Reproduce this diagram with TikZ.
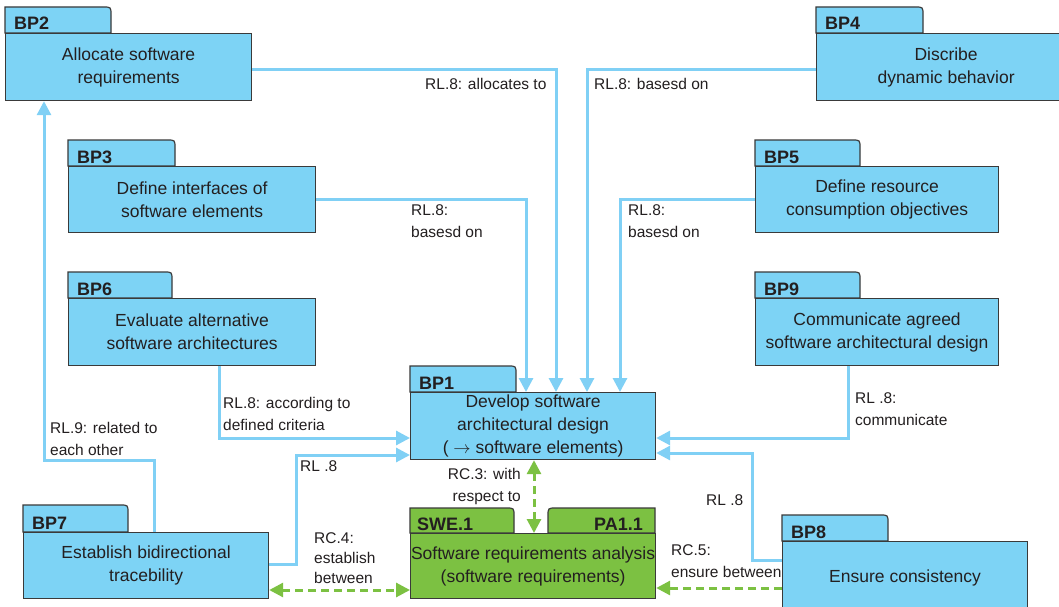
\documentclass[tikz,border=0pt]{standalone}
\usepackage{fontspec}
\setmainfont{Liberation Sans}
\usetikzlibrary{arrows.meta}

\definecolor{boxblue}{HTML}{7DD3F5}
\definecolor{lineblue}{HTML}{80D0F5}
\definecolor{boxgreen}{HTML}{7CC142}
\definecolor{edge}{HTML}{3A3A3A}
\definecolor{ink}{HTML}{231F20}

\tikzset{
  >={Triangle[length=14pt,width=14pt]},
  bpbody/.style={draw=edge, line width=1.2pt, inner sep=0pt, text=ink, align=center,
    font=\fontsize{17.5}{23}\selectfont},
  tabshape/.style={draw=edge, line width=1.2pt},
  head/.style={inner sep=0pt, anchor=base west, text=ink,
    font=\fontsize{18}{20}\selectfont\bfseries},
  lbl/.style={inner sep=0pt, anchor=west, align=left, text=ink,
    font=\fontsize{15.5}{22}\selectfont},
  rl/.style={draw=lineblue, line width=3pt, ->},
  rc/.style={draw=boxgreen, line width=3pt, dash pattern=on 8pt off 5pt},
}

% folder tab with a rounded top-right corner: fill, x1, x2, ytop, ybottom
\newcommand\tabL[5]{%
  \filldraw[tabshape, fill=#1] (#2,#5) -- (#2,#4) -- ({#3-8},#4)
    .. controls (#3,#4) .. (#3,{#4+8}) -- (#3,#5) -- cycle;}
% folder tab with a rounded top-left corner
\newcommand\tabR[5]{%
  \filldraw[tabshape, fill=#1] (#2,#5) -- (#2,{#4+8})
    .. controls (#2,#4) .. ({#2+8},#4) -- (#3,#4) -- (#3,#5) -- cycle;}
% base practice: name, x1, tab x2, x2, tab top, body top, body bottom, heading, text
\newcommand\bp[9]{%
  \tabL{boxblue}{#2}{#3}{#5}{#6}
  \node[bpbody, fill=boxblue, anchor=north west,
        minimum width={(#4-#2)*1pt}, minimum height={(#7-#6)*1pt}] (#1) at (#2,#6) {#9};
  \node[head] (#1h) at ({#2+9},{#6-3}) {#8};}

\begin{document}
\begin{tikzpicture}[x=1pt, y=-1pt]
\useasboundingbox[fill=white] (0,0) rectangle (1059,607);

% base practices
\bp{bp2}{5}{111}{251}{7}{33}{100}{BP2}{Allocate software\\requirements}
\bp{bp4}{816}{923}{1075}{7}{33}{100}{BP4}{Discribe\\dynamic behavior}
\bp{bp3}{68}{175}{315}{140}{166}{232}{BP3}{Define interfaces of\\software elements}
\bp{bp5}{755}{860}{998}{140}{166}{232}{BP5}{Define resource\\consumption objectives}
\bp{bp6}{68}{172}{315}{272}{298}{365}{BP6}{Evaluate alternative\\software architectures}
\bp{bp9}{755}{860}{998}{272}{298}{365}{BP9}{Communicate agreed\\software architectural design}
\bp{bp1}{410}{516}{655}{366}{392}{459}{BP1}{Develop software\\architectural design\\( $\rightarrow$ software elements)}
\bp{bp7}{23}{128}{268}{505}{532}{598}{BP7}{Establish bidirectional\\tracebility}
\bp{bp8}{782}{888}{1027}{515}{541}{613}{BP8}{Ensure consistency}

% process SWE.1
\tabL{boxgreen}{410}{514}{508}{533}
\tabR{boxgreen}{548}{655}{508}{533}
\node[bpbody, fill=boxgreen, anchor=north west, minimum width=245pt, minimum height=65pt]
  (swe) at (410,533) {Software requirements analysis\\(software requirements)};
\node[head] (sweh) at (417,530) {SWE.1};
\node[head, anchor=base east] (pah) at (643,530) {PA1.1};

% RL connectors
\draw[rl] (bp2.east |- 0,70) -| (556,0 |- bp1.north);
\draw[rl] (bp4.west |- 0,70) -| (587,0 |- bp1.north);
\draw[rl] (bp3.east) -| (526,0 |- bp1.north);
\draw[rl] (bp5.west) -| (620,0 |- bp1.north);
\draw[rl] (bp6.south -| 219,0) |- (bp1.west |- 0,438);
\draw[rl] (bp9.south -| 848,0) |- (bp1.east |- 0,438);
\draw[rl] (bp7.east |- 0,564) -| (296,455) -- (bp1.west |- 0,455);
\draw[rl] (bp8.west |- 0,560) -| (752,453) -- (bp1.east |- 0,453);
\draw[rl] (bp7.north -| 154,0) |- (44,460) -- (44,0 |- bp2.south);

% RC connectors
\draw[rc, <->] (bp1.south -| 534,0) -- (swe.north -| 534,0);
\draw[rc, <->] (bp7.east |- 0,590) -- (swe.west |- 0,590);
\draw[rc, ->] (bp8.west |- 0,588) -- (swe.east |- 0,588);

% connector labels
\node[lbl] (l2) at (425,84) {RL.8: allocates to};
\node[lbl] (l4) at (594,84) {RL.8: basesd on};
\node[lbl] (l3) at (411,221) {RL.8:\\basesd on};
\node[lbl] (l5) at (628,221) {RL.8:\\basesd on};
\node[lbl] (l6) at (223,413.5) {RL.8: according to\\defined criteria};
\node[lbl] (l7) at (300,466) {RL .8};
\node[lbl] (l9r) at (50,439) {RL.9: related to\\each other};
\node[lbl] (l9) at (855,409) {RL .8:\\communicate};
\node[lbl] (l8) at (706,500) {RL .8};
\node[lbl, anchor=east, align=right] (lc3) at (521,486) {RC.3: with\\respect to};
\node[lbl, font=\fontsize{15.5}{20}\selectfont] (lc4) at (314,558) {RC.4:\\establish\\between};
\node[lbl] (lc5) at (671,561) {RC.5:\\ensure between};
\end{tikzpicture}
\end{document}
